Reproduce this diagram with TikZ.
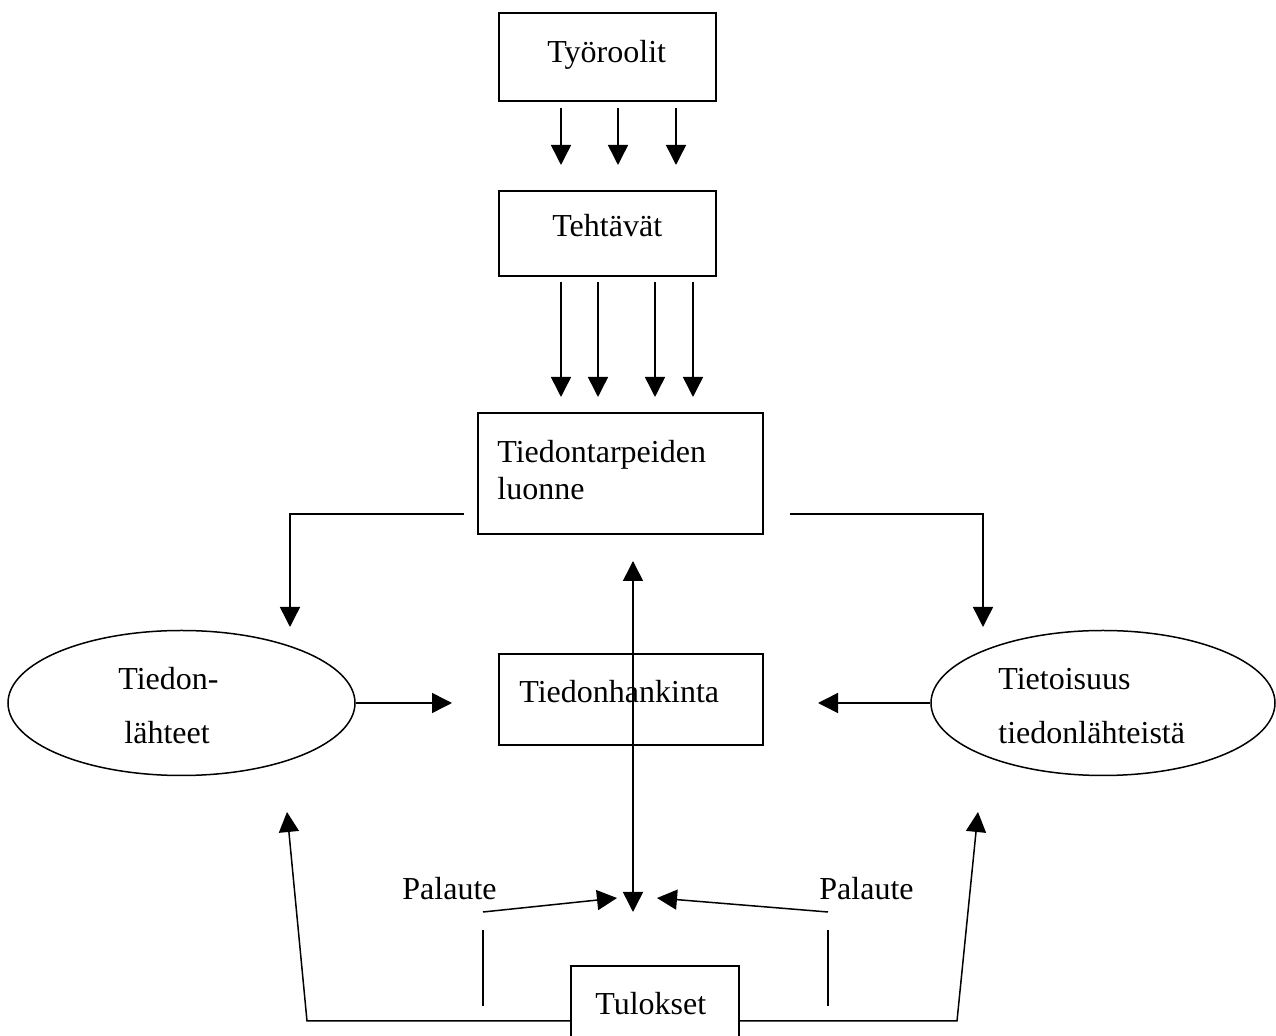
\documentclass[tikz,border=0pt]{standalone}
\usepackage{fontspec}
\setmainfont{Liberation Serif}
\usetikzlibrary{arrows.meta,shapes.geometric}
\begin{document}
\begin{tikzpicture}[x=0.5pt,y=-0.5pt,
  ln/.style={line width=0.75pt},
  arr/.style={ln,-{Triangle[length=10pt,width=10pt]}},
  dbl/.style={ln,{Triangle[length=10pt,width=10pt]}-{Triangle[length=10pt,width=10pt]}},
  box/.style={draw,ln,rectangle,inner sep=0pt},
  ell/.style={draw,ln,ellipse,inner sep=0pt},
  txt/.style={font=\fontsize{16}{18.5}\selectfont,inner sep=0pt},
  ltxt/.style={txt,anchor=base west}]
\useasboundingbox (0,0) rectangle (1276,1036);
\clip (0,0) rectangle (1276,1036);
% boxes
\node[box,minimum width=108.5pt,minimum height=44pt] (ty) at (607.5,57) {};
\node[box,minimum width=108.5pt,minimum height=42.5pt] (te) at (607.5,233.5) {};
\node[box,minimum width=142.5pt,minimum height=60.5pt] (tt) at (620.5,473.5) {};
\node[box,minimum width=132pt,minimum height=45.5pt] (th) at (631,699.5) {};
\node[box,minimum width=84pt,minimum height=47pt] (tu) at (655,1013) {};
\node[ell,minimum width=173.5pt,minimum height=72.5pt] (el) at (181.5,703) {};
\node[ell,minimum width=172pt,minimum height=72.5pt] (er) at (1103,703) {};
% texts
\node[ltxt] (t1) at (547,63) {Työroolit};
\node[ltxt] (t2) at (552,237) {Tehtävät};
\node[ltxt] (t3) at (497,463) {Tiedontarpeiden};
\node[ltxt] (t4) at (497,500) {luonne};
\node[ltxt] (t5) at (519,703) {Tiedonhankinta};
\node[ltxt] (t6) at (118,690) {Tiedon-};
\node[ltxt] (t7) at (124,744) {lähteet};
\node[ltxt] (t8) at (998,690) {Tietoisuus};
\node[ltxt] (t9) at (998,744) {tiedonlähteistä};
\node[ltxt] (t10) at (402,900) {Palaute};
\node[ltxt] (t11) at (819,900) {Palaute};
\node[ltxt] (t12) at (595,1015) {Tulokset};
% coordinates
\coordinate (hub) at (633,912);
\coordinate (hubL) at (617,898);
\coordinate (hubR) at (657,898);
\coordinate (pl) at (483,912);
\coordinate (pr) at (828,912);
% Tyoroolit -> Tehtavat
\foreach \x in {561,618,676} \draw[arr] (\x,108) -- (\x,165);
% Tehtavat -> Tiedontarpeiden
\foreach \x in {561,598,655,693} \draw[arr] (\x,282) -- (\x,397);
% side connectors
\draw[arr] (464,514) -| (290,627);
\draw[arr] (790,514) -| (983,627);
% ellipses -> Tiedonhankinta
\draw[arr] (el.east) -- (452,703);
\draw[arr] (er.west) -- (818,703);
% vertical double arrow
\draw[dbl] (633,561) -- (hub);
% Palaute arrows
\draw[arr] (pl) -- (hubL);
\draw[arr] (pr) -- (hubR);
\draw[ln] (483,930) -- (483,1006);
\draw[ln] (828,930) -- (828,1006);
% Tulokset connectors
\draw[arr] (tu.west |- 0,1021) -- (307,1021) -- (287,812);
\draw[arr] (tu.east |- 0,1021) -- (957,1021) -- (978,812);
\end{tikzpicture}
\end{document}
